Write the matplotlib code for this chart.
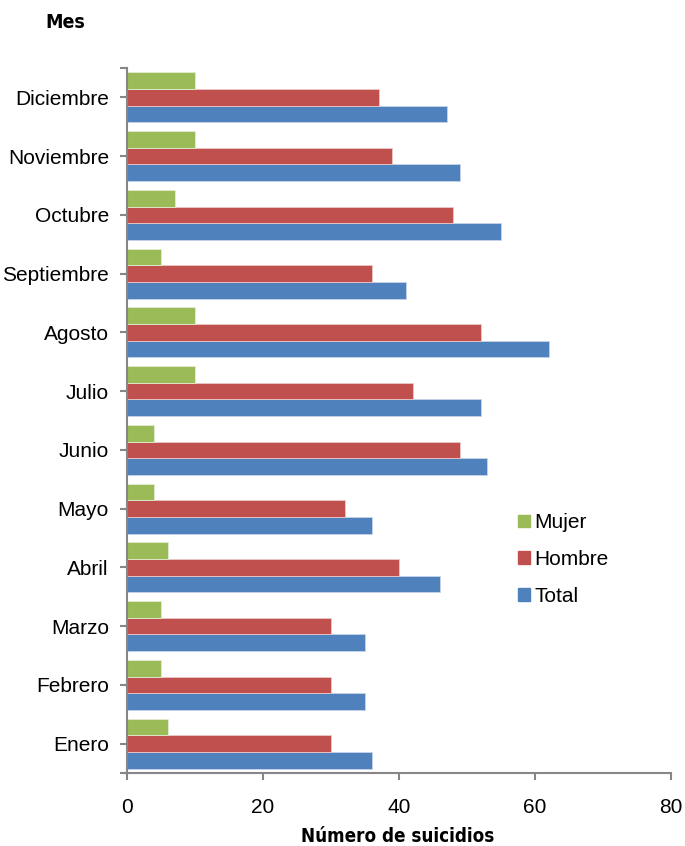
import numpy as np
import matplotlib
matplotlib.use("Agg")
import matplotlib.pyplot as plt
from matplotlib.patches import Patch

# data
months = ["Enero", "Febrero", "Marzo", "Abril", "Mayo", "Junio",
          "Julio", "Agosto", "Septiembre", "Octubre", "Noviembre", "Diciembre"]
total = [36, 35, 35, 46, 36, 53, 52, 62, 41, 55, 49, 47]
hombre = [30, 30, 30, 40, 32, 49, 42, 52, 36, 48, 39, 37]
mujer = [6, 5, 5, 6, 4, 4, 10, 10, 5, 7, 10, 10]
xticks = [0, 20, 40, 60, 80]

c_mujer = "#9BBB59"
c_hombre = "#C0504D"
c_total = "#4F81BD"
axis_gray = "#868686"

plt.rcParams["font.family"] = ["Liberation Sans", "DejaVu Sans"]
title_font = dict(family="DejaVu Sans", fontstretch="condensed", fontweight="bold")

fig = plt.figure(figsize=(6.85, 8.46), dpi=100)
ax = fig.add_axes([127 / 685, 1 - 773 / 846, 544 / 685, 705 / 846])

y = np.arange(len(months))
h = 0.285
ax.barh(y - h, total, height=h, color=c_total, edgecolor="#c6d5ea", lw=0.6)
ax.barh(y, hombre, height=h, color=c_hombre, edgecolor="#ecc9c8", lw=0.6)
ax.barh(y + h, mujer, height=h, color=c_mujer, edgecolor="#e3edd3", lw=0.6)

ax.set_xlim(0, 80)
ax.set_ylim(-0.5, len(months) - 0.5)
ax.set_xticks(xticks)
ax.set_yticks(y)
ax.set_yticklabels(months)
ax.set_yticks([-0.5, len(months) - 0.5], minor=True)

for s in ["top", "right"]:
    ax.spines[s].set_visible(False)
for s in ["left", "bottom"]:
    ax.spines[s].set_color(axis_gray)
    ax.spines[s].set_linewidth(1.5)

ax.tick_params(axis="both", which="both", color=axis_gray, width=1.5, length=5,
               labelsize=15)
ax.tick_params(axis="x", pad=13)
ax.tick_params(axis="y", pad=8)

fig.text(398 / 685, 1 - 836 / 846, "Número de suicidios", fontsize=13.5,
         ha="center", va="center", **title_font)
fig.text(45 / 685, 1 - 23 / 846, "Mes", fontsize=14, va="center", ha="left",
         **title_font)

handles = [Patch(color=c_mujer, label="Mujer"),
           Patch(color=c_hombre, label="Hombre"),
           Patch(color=c_total, label="Total")]
ax.legend(handles=handles, loc="upper left", bbox_to_anchor=(0.685, 0.395),
          frameon=False, fontsize=15, handlelength=0.55, handleheight=0.55,
          handletextpad=0.2, labelspacing=0.85)

fig.savefig("out.png", dpi=100)
